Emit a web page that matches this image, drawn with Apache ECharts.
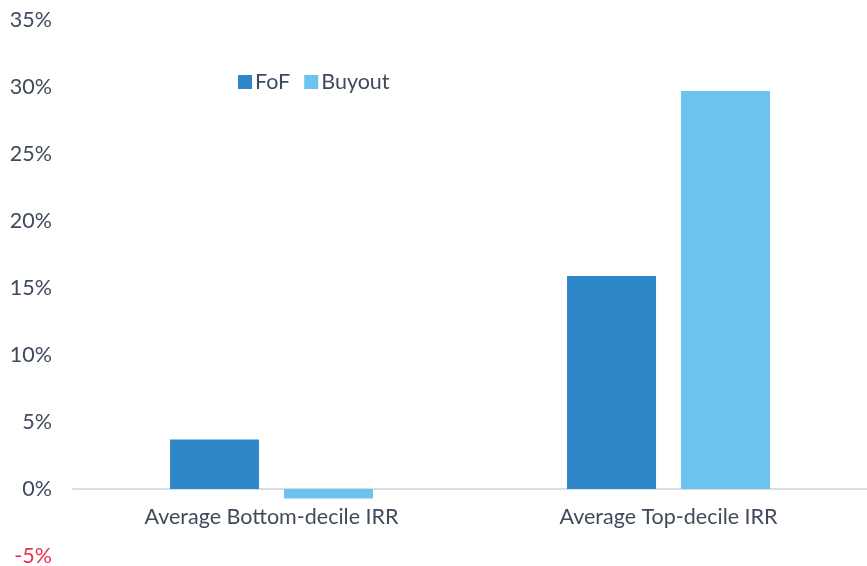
<!DOCTYPE html>
<html><head><meta charset="utf-8">
<script src="https://cdn.jsdelivr.net/npm/echarts@6/dist/echarts.min.js"></script>
<style>html,body{margin:0;padding:0;background:#fff}#c{width:867px;height:566px}</style>
</head><body><div id="c"></div>
<script>
var categories = ['Average Bottom-decile IRR', 'Average Top-decile IRR'];
var fofValues = [3.7, 15.9];
var buyoutValues = [-0.7, 29.7];
var seriesNames = ['FoF', 'Buyout'];
var chart = echarts.init(document.getElementById('c'));
var textColor = '#3f4a5c';
var font = 'Lato';
var fs = 21.5;
chart.setOption({
  animation: false,
  grid: {left: 73, right: 0, top: 20, bottom: 10, containLabel: false, outerBoundsMode: 'none'},
  legend: {
    left: 233, top: 66, itemWidth: 14, itemHeight: 14, itemGap: 14,
    icon: 'rect',
    textStyle: {color: textColor, fontSize: fs, fontFamily: font, padding: [0,0,0,-2]},
    data: seriesNames
  },
  xAxis: {
    type: 'category', data: categories,
    axisLine: {lineStyle: {color: '#d9dde6', width: 2}},
    axisTick: {show: false},
    axisLabel: {color: textColor, fontSize: fs, fontFamily: font, margin: -50, hideOverlap: false}
  },
  yAxis: {
    type: 'value', min: -5, max: 35, interval: 5,
    splitLine: {show: false},
    axisLine: {show: false}, axisTick: {show: false},
    axisLabel: {
      fontSize: fs, fontFamily: font, margin: 21,
      formatter: function(v){ return v + '%'; },
      color: function(v){ return v < 0 ? '#e8334a' : textColor; }
    }
  },
  series: [
    {name: seriesNames[0], type: 'bar', data: fofValues, barWidth: 89, barGap: '28%',
     itemStyle: {color: '#2e87c8'}},
    {name: seriesNames[1], type: 'bar', data: buyoutValues, barWidth: 89,
     itemStyle: {color: '#6bc3ee'}}
  ]
});
</script></body></html>
